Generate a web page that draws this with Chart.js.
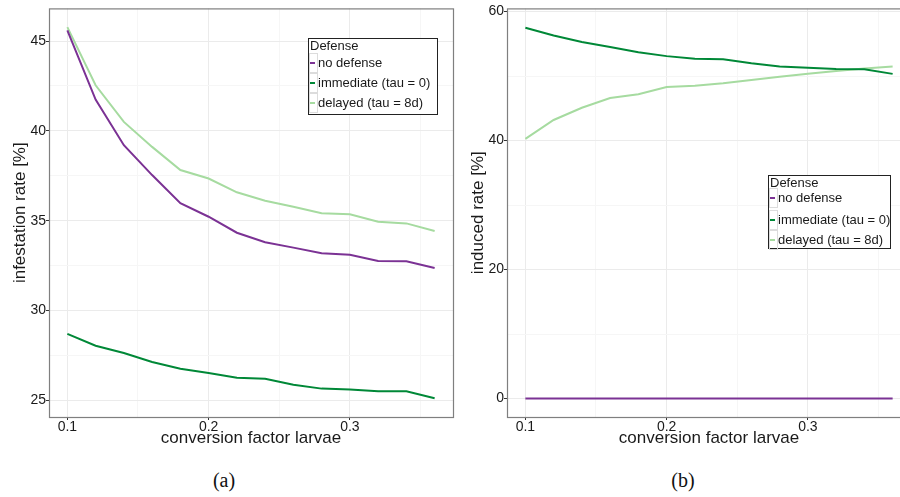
<!DOCTYPE html>
<html>
<head>
<meta charset="utf-8">
<script src="https://cdn.jsdelivr.net/npm/chart.js@4.4.0/dist/chart.umd.min.js"></script>
<style>
  html, body { margin: 0; padding: 0; background: #fff; overflow: hidden; }
  #page { position: relative; width: 900px; height: 497px; overflow: hidden; }
  #wa { position: absolute; left: 0; top: 0; }
  #wb { position: absolute; left: 460px; top: 0; }
  .cap {
    position: absolute; top: 469px; width: 60px; text-align: center;
    font-family: "Liberation Serif", "DejaVu Serif", serif; font-size: 20px; color: #111;
  }
</style>
</head>
<body>
<div id="page">
  <canvas id="wa" width="460" height="455"></canvas>
  <canvas id="wb" width="452" height="455"></canvas>
  <div class="cap" style="left:194px">(a)</div>
  <div class="cap" style="left:653px">(b)</div>
</div>
<script>
// ---- Data -----------------------------------------------------------------

const X = [0.10, 0.12, 0.14, 0.16, 0.18, 0.20, 0.22, 0.24, 0.26, 0.28, 0.30, 0.32, 0.34, 0.36];

const SERIES_NAMES = ["no defense", "immediate (tau = 0)", "delayed (tau = 8d)"];
const COLORS = ["#7b3294", "#008837", "#a6dba0"];

// (a) infestation rate [%]
const INF_NONE = [45.6, 41.74, 39.2, 37.54, 35.97, 35.22, 34.33, 33.8, 33.5, 33.19, 33.1, 32.76, 32.74, 32.37];
const INF_IMM  = [28.7, 28.04, 27.63, 27.13, 26.76, 26.52, 26.26, 26.2, 25.87, 25.65, 25.6, 25.5, 25.5, 25.11];
const INF_DEL  = [45.78, 42.54, 40.5, 39.11, 37.82, 37.35, 36.58, 36.11, 35.78, 35.41, 35.36, 34.94, 34.85, 34.43];

// (b) induced rate [%]
const IND_NONE = [0, 0, 0, 0, 0, 0, 0, 0, 0, 0, 0, 0, 0, 0];
const IND_IMM  = [57.5, 56.3, 55.3, 54.5, 53.7, 53.1, 52.7, 52.6, 52.0, 51.5, 51.3, 51.1, 51.07, 50.35];
const IND_DEL  = [40.26, 43.2, 45.1, 46.6, 47.2, 48.3, 48.5, 48.9, 49.4, 49.9, 50.35, 50.8, 51.2, 51.5];

// Tick values
const X_TICKS = [0.1, 0.2, 0.3];
const X_MINOR = [0.15, 0.25, 0.35];
const INF_TICKS = [25, 30, 35, 40, 45];
const INF_MINOR = [27.5, 32.5, 37.5, 42.5];
const IND_TICKS = [0, 20, 40, 60];
const IND_MINOR = [10, 30, 50];

// ---- Helpers ----------------------------------------------------------------

const SANS = "'Liberation Sans', Arimo, Arial, sans-serif";
const TEXT = "#1a1a1a";
const MAJOR_GRID = "#ebebeb";
const MINOR_GRID = "#f6f6f6";

function points(ys) {
  return X.map((x, i) => ({ x, y: ys[i] }));
}

function datasets(series) {
  return series.map((ys, i) => ({
    label: SERIES_NAMES[i],
    data: points(ys),
    borderColor: COLORS[i],
    backgroundColor: COLORS[i],
    borderWidth: 2,
    pointRadius: 0,
    tension: 0,
    fill: false,
  }));
}

function axis(major, minor, opts) {
  const isMajor = (v) => major.includes(v);
  return {
    type: "linear",
    min: opts.min,
    max: opts.max,
    afterBuildTicks: (s) => {
      s.ticks = major.concat(minor).sort((a, b) => a - b).map((v) => ({ value: v }));
    },
    afterFit: (s) => {
      if (opts.width) s.width = opts.width;
      if (opts.height) s.height = opts.height;
    },
    border: { display: false },
    grid: {
      color: (c) => (isMajor(c.tick.value) ? MAJOR_GRID : MINOR_GRID),
      tickColor: (c) => (isMajor(c.tick.value) ? "#333" : "rgba(0,0,0,0)"),
      lineWidth: 1,
      tickLength: 3,
    },
    ticks: {
      autoSkip: false,
      maxRotation: 0,
      padding: opts.tickPad,
      color: TEXT,
      font: { family: SANS, size: 14 },
      callback: (v) => (isMajor(v) ? opts.fmt(v) : ""),
    },
    title: {
      display: true,
      text: opts.title,
      color: TEXT,
      font: { family: SANS, size: 17 },
      padding: opts.titlePad,
    },
  };
}

// panel border drawn over the lines, like ggplot's theme_bw
const panelBorder = {
  id: "panelBorder",
  afterDatasetsDraw(chart) {
    const { ctx, chartArea: a } = chart;
    ctx.save();
    ctx.strokeStyle = "#7f7f7f";
    ctx.lineWidth = 1.2;
    ctx.strokeRect(a.left + 0.5, a.top + 0.5, a.right - a.left, a.bottom - a.top);
    ctx.restore();
  },
};

// boxed legend placed inside the panel
const boxLegend = {
  id: "boxLegend",
  afterDraw(chart, args, o) {
    const { ctx } = chart;
    ctx.save();
    ctx.fillStyle = "#fff";
    ctx.fillRect(o.x, o.y, o.w, o.h);
    ctx.strokeStyle = "#222";
    ctx.lineWidth = 1;
    ctx.strokeRect(o.x + 0.5, o.y + 0.5, o.w, o.h);
    ctx.textBaseline = "middle";
    ctx.fillStyle = TEXT;
    ctx.font = `13px ${SANS}`;
    ctx.fillText("Defense", o.x + 2, o.y + 8);
    SERIES_NAMES.forEach((name, i) => {
      const cy = o.y + o.rows[i];
      ctx.strokeStyle = "#dcdcdc";
      ctx.strokeRect(o.x + 1.5, cy - 9.5, 8, 19);
      ctx.strokeStyle = COLORS[i];
      ctx.lineWidth = 2;
      ctx.beginPath();
      ctx.moveTo(o.x + 2, cy);
      ctx.lineTo(o.x + 7, cy);
      ctx.stroke();
      ctx.lineWidth = 1;
      ctx.fillStyle = TEXT;
      ctx.fillText(name, o.x + 10, cy);
    });
    ctx.restore();
  },
};

function makeChart(id, series, cfg) {
  return new Chart(document.getElementById(id), {
    type: "line",
    data: { datasets: datasets(series) },
    options: {
      responsive: false,
      animation: false,
      devicePixelRatio: 1,
      layout: { padding: cfg.padding },
      plugins: { legend: { display: false }, tooltip: { enabled: false }, boxLegend: cfg.legend },
      scales: {
        x: axis(X_TICKS, X_MINOR, {
          min: 0.087, max: 0.373, height: 38, tickPad: -1,
          title: "conversion factor larvae", titlePad: { top: 0, bottom: 6 },
          fmt: (v) => v.toFixed(1),
        }),
        y: axis(cfg.yTicks, cfg.yMinor, {
          min: cfg.yMin, max: cfg.yMax, width: cfg.yWidth, tickPad: 0,
          title: cfg.yTitle, titlePad: { top: cfg.yTitlePad, bottom: 0 },
          fmt: (v) => String(v),
        }),
      },
    },
    plugins: [panelBorder, boxLegend],
  });
}

// ---- Build ------------------------------------------------------------------

makeChart("wa", [INF_NONE, INF_IMM, INF_DEL], {
  padding: { left: 0, right: 7, top: 7, bottom: 0 },
  yTicks: INF_TICKS, yMinor: INF_MINOR, yMin: 24.07, yMax: 46.82,
  yWidth: 49, yTitle: "infestation rate [%]", yTitlePad: 10,
  legend: { x: 308, y: 38, w: 129, h: 76, rows: [25, 45, 65] },
});

makeChart("wb", [IND_NONE, IND_IMM, IND_DEL], {
  padding: { left: 0, right: 1, top: 7, bottom: 0 },
  yTicks: IND_TICKS, yMinor: IND_MINOR, yMin: -2.85, yMax: 60.5,
  yWidth: 47, yTitle: "induced rate [%]", yTitlePad: 8,
  legend: { x: 308, y: 175, w: 122, h: 73, rows: [23, 45, 65] },
});
</script>
</body>
</html>
